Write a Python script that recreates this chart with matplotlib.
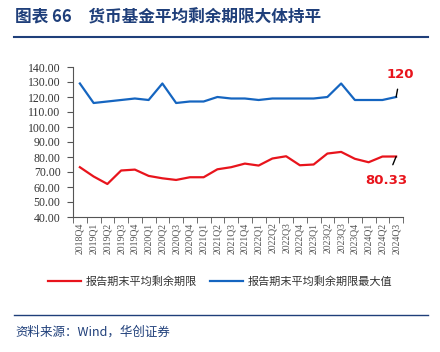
import numpy as np
import matplotlib
matplotlib.use("Agg")
import matplotlib.pyplot as plt
from matplotlib.lines import Line2D

plt.rcParams['font.family'] = ['Noto Sans CJK SC', 'DejaVu Sans']

quarters = ['2018Q4', '2019Q1', '2019Q2', '2019Q3', '2019Q4',
            '2020Q1', '2020Q2', '2020Q3', '2020Q4',
            '2021Q1', '2021Q2', '2021Q3', '2021Q4',
            '2022Q1', '2022Q2', '2022Q3', '2022Q4',
            '2023Q1', '2023Q2', '2023Q3', '2023Q4',
            '2024Q1', '2024Q2', '2024Q3']
avg_term = [73.2, 67.0, 62.0, 71.0, 71.6, 67.4, 65.8, 64.7, 66.5, 66.5,
            71.8, 73.2, 75.6, 74.3, 79.0, 80.5, 74.5, 75.0, 82.3, 83.4,
            78.8, 76.5, 80.3, 80.33]
max_term = [129, 116, 117, 118, 119, 118, 129, 116, 117, 117,
            120, 119, 119, 118, 119, 119, 119, 119, 120, 129,
            118, 118, 118, 120]

red = '#e8141c'
blue = '#1565c0'
navy = '#1f3f7a'

fig = plt.figure(figsize=(4.4, 3.52), dpi=100)
ax = fig.add_axes([73/440, 1-217/352, 330/440, 150/352])

x = np.arange(len(quarters))
ax.plot(x, avg_term, color=red, lw=1.6, label='报告期末平均剩余期限')
ax.plot(x, max_term, color=blue, lw=1.6, label='报告期末平均剩余期限最大值')

ax.set_xlim(-0.5, len(quarters) - 0.5)
ax.set_ylim(40, 140)
ax.set_yticks(np.arange(40, 141, 10))
ax.set_yticklabels([f'{v:.2f}' for v in np.arange(40, 141, 10)],
                   family='Liberation Serif', fontsize=8.5, color='#333333')
ax.set_xticks(x)
ax.set_xticklabels(quarters, rotation=90, family='Liberation Serif',
                   fontsize=7, color='#555555')
ax.set_xticks(np.arange(-0.5, len(quarters), 1), minor=True)
ax.tick_params(axis='x', which='major', length=0, pad=4)
ax.tick_params(axis='x', which='minor', length=4, direction='out', color='#555555')
ax.tick_params(axis='y', length=4, direction='out', color='#555555', pad=5)
for s in ['top', 'right']:
    ax.spines[s].set_visible(False)
for s in ['left', 'bottom']:
    ax.spines[s].set_color('#555555')
    ax.spines[s].set_linewidth(0.8)

# end-point labels
last = len(quarters) - 1
ax.annotate('120', xy=(last, max_term[-1]), xytext=(last + 0.3, 130.7),
            color=red, fontsize=9.5, fontweight='bold', ha='center', va='bottom',
            family='DejaVu Sans',
            arrowprops=dict(arrowstyle='-', color='black', lw=1, shrinkA=4, shrinkB=0))
ax.annotate('80.33', xy=(last, avg_term[-1]), xytext=(last - 0.7, 68.7),
            color=red, fontsize=9.5, fontweight='bold', ha='center', va='top',
            family='DejaVu Sans',
            arrowprops=dict(arrowstyle='-', color='black', lw=1, shrinkA=5, shrinkB=0))

fig.legend(handles=[Line2D([], [], color=red, lw=1.6),
                    Line2D([], [], color=blue, lw=1.6)],
           labels=['报告期末平均剩余期限', '报告期末平均剩余期限最大值'],
           loc='center', bbox_to_anchor=(0.5, 1-282/352), ncol=2, frameon=False,
           fontsize=8, handlelength=3, columnspacing=1.2, handletextpad=0.4,
           labelcolor='#333333')

fig.text(15/440, 1-17/352, '图表 66　货币基金平均剩余期限大体持平',
         color=navy, fontsize=12, fontweight='bold', va='center', ha='left')
fig.add_artist(Line2D([14/440, 428/440], [1-36.5/352, 1-36.5/352], color=navy, lw=1.5))
fig.add_artist(Line2D([14/440, 428/440], [1-315/352, 1-315/352], color=navy, lw=1.0))
fig.text(15/440, 1-332/352, '资料来源：Wind，华创证券', color=navy, fontsize=9,
         style='italic', va='center', ha='left')

fig.savefig('out.png', dpi=100)
